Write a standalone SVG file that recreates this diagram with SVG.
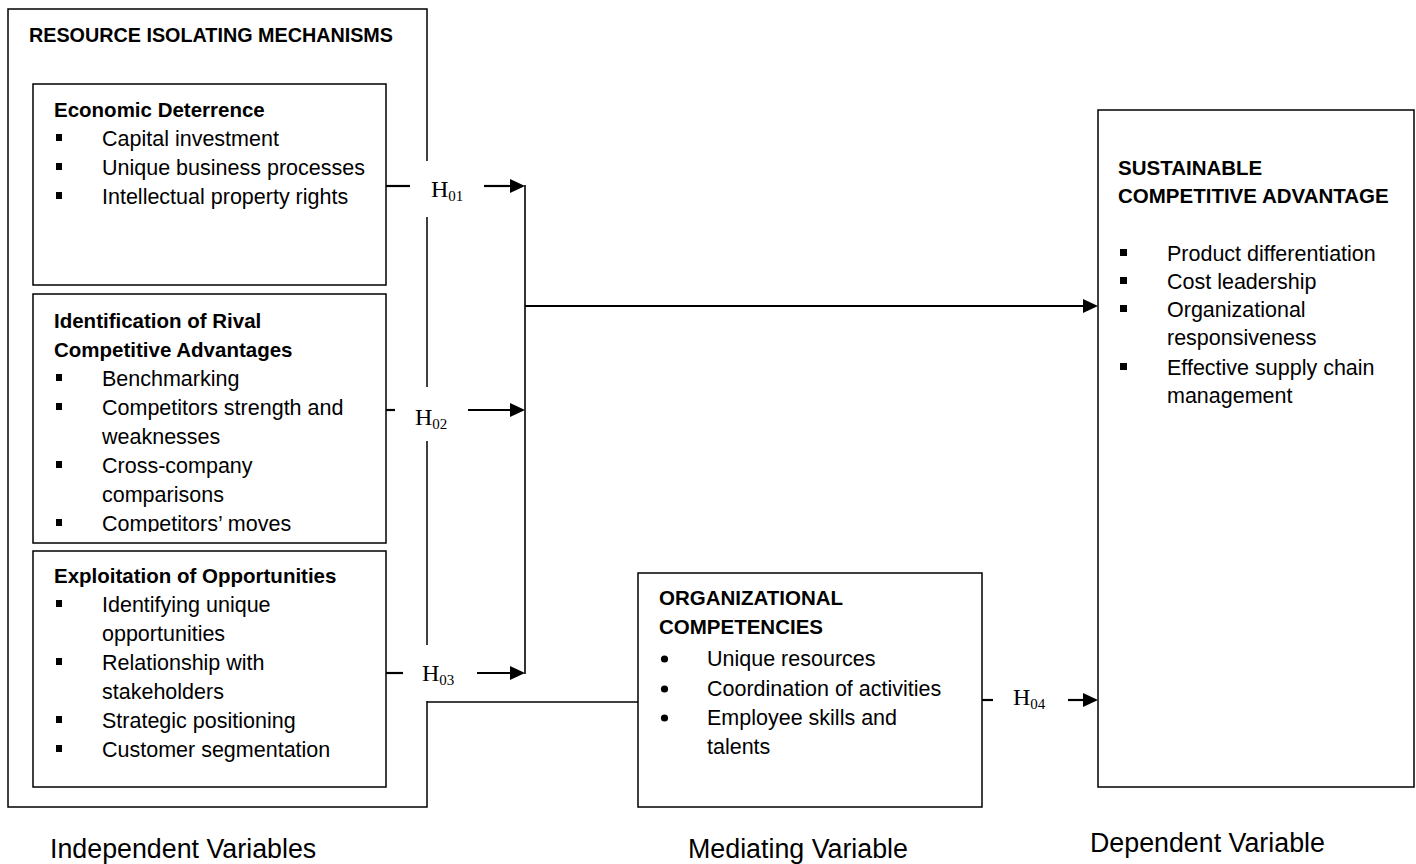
<svg xmlns="http://www.w3.org/2000/svg" width="1416" height="864" viewBox="0 0 1416 864">
<style>
.box{fill:none;stroke:#000;stroke-width:1.5}
.t{font-family:"Liberation Sans",Arial,sans-serif;font-size:21.5px;fill:#000}
.b{font-weight:bold;font-size:20.5px}
.lbl{font-size:26.8px}
.h{font-family:"Liberation Serif","Times New Roman",serif;font-size:24px;fill:#000}
.ln{stroke:#000;stroke-width:2.2;fill:none}
.jn{stroke:#000;stroke-width:1.6;fill:none}
.bg{fill:#fff;stroke:none}
.sq{fill:#000}
</style>
<defs>
<marker id="ah" viewBox="0 0 15 14" markerWidth="15" markerHeight="14" refX="0" refY="7" markerUnits="userSpaceOnUse" orient="auto">
<path d="M0,0 L15,7 L0,14 z" fill="#000"/>
</marker>
<clipPath id="c2"><rect x="33" y="294" width="353" height="238"/></clipPath>
</defs>
<rect width="1416" height="864" fill="#fff"/>

<g id="resource-isolating-mechanisms">
<rect class="box" x="8" y="9" width="419" height="798"/>
<text class="t b" x="29" y="42" textLength="364" lengthAdjust="spacingAndGlyphs">RESOURCE ISOLATING MECHANISMS</text>
</g>

<g id="economic-deterrence">
<rect class="box" x="33" y="84" width="353" height="201"/>
<text class="t b" x="54" y="117">Economic Deterrence</text>
<rect class="sq" x="56" y="134" width="6" height="7"/>
<rect class="sq" x="56" y="163" width="6" height="7"/>
<rect class="sq" x="56" y="192" width="6" height="7"/>
<text class="t" x="102" y="146">Capital investment</text>
<text class="t" x="102" y="175">Unique business processes</text>
<text class="t" x="102" y="204">Intellectual property rights</text>
</g>

<g id="identification-of-rival">
<rect class="box" x="33" y="294" width="353" height="249"/>
<g clip-path="url(#c2)">
<text class="t b" x="54" y="328">Identification of Rival</text>
<text class="t b" x="54" y="357">Competitive Advantages</text>
<rect class="sq" x="56" y="374" width="6" height="7"/>
<rect class="sq" x="56" y="403" width="6" height="7"/>
<rect class="sq" x="56" y="461" width="6" height="7"/>
<rect class="sq" x="56" y="519" width="6" height="7"/>
<text class="t" x="102" y="386">Benchmarking</text>
<text class="t" x="102" y="415">Competitors strength and</text>
<text class="t" x="102" y="444">weaknesses</text>
<text class="t" x="102" y="473">Cross-company</text>
<text class="t" x="102" y="502">comparisons</text>
<text class="t" x="102" y="531">Competitors’ moves</text>
</g>
</g>

<g id="exploitation-of-opportunities">
<rect class="box" x="33" y="551" width="353" height="236"/>
<text class="t b" x="54" y="583">Exploitation of Opportunities</text>
<rect class="sq" x="56" y="600" width="6" height="7"/>
<rect class="sq" x="56" y="658" width="6" height="7"/>
<rect class="sq" x="56" y="716" width="6" height="7"/>
<rect class="sq" x="56" y="745" width="6" height="7"/>
<text class="t" x="102" y="612">Identifying unique</text>
<text class="t" x="102" y="641">opportunities</text>
<text class="t" x="102" y="670">Relationship with</text>
<text class="t" x="102" y="699">stakeholders</text>
<text class="t" x="102" y="728">Strategic positioning</text>
<text class="t" x="102" y="757">Customer segmentation</text>
</g>

<g id="organizational-competencies">
<rect class="box" x="638" y="573" width="344" height="234"/>
<text class="t b" x="659" y="605">ORGANIZATIONAL</text>
<text class="t b" x="659" y="634">COMPETENCIES</text>
<circle class="sq" cx="664.5" cy="659" r="3.6"/>
<circle class="sq" cx="664.5" cy="689" r="3.6"/>
<circle class="sq" cx="664.5" cy="718" r="3.6"/>
<text class="t" x="707" y="666">Unique resources</text>
<text class="t" x="707" y="696">Coordination of activities</text>
<text class="t" x="707" y="725">Employee skills and</text>
<text class="t" x="707" y="754">talents</text>
</g>

<g id="sustainable-competitive-advantage">
<rect class="box" x="1098" y="110" width="316" height="677"/>
<text class="t b" x="1118" y="175">SUSTAINABLE</text>
<text class="t b" x="1118" y="203">COMPETITIVE ADVANTAGE</text>
<rect class="sq" x="1120" y="249" width="7" height="7"/>
<rect class="sq" x="1120" y="277" width="7" height="7"/>
<rect class="sq" x="1120" y="305" width="7" height="7"/>
<rect class="sq" x="1120" y="363" width="7" height="7"/>
<text class="t" x="1167" y="261">Product differentiation</text>
<text class="t" x="1167" y="289">Cost leadership</text>
<text class="t" x="1167" y="317">Organizational</text>
<text class="t" x="1167" y="345">responsiveness</text>
<text class="t" x="1167" y="375">Effective supply chain</text>
<text class="t" x="1167" y="403">management</text>
</g>

<g id="connectors">
<line class="ln" x1="386" y1="186" x2="410" y2="186"/>
<line class="ln" x1="484" y1="186" x2="510" y2="186" marker-end="url(#ah)"/>
<line class="ln" x1="386" y1="410" x2="395" y2="410"/>
<line class="ln" x1="468" y1="410" x2="510" y2="410" marker-end="url(#ah)"/>
<line class="ln" x1="386" y1="673" x2="403" y2="673"/>
<line class="ln" x1="477" y1="673" x2="510" y2="673" marker-end="url(#ah)"/>
<line class="jn" x1="525" y1="185" x2="525" y2="674"/>
<line class="ln" x1="525" y1="306" x2="1083" y2="306" marker-end="url(#ah)"/>
<line class="jn" x1="427" y1="702" x2="638" y2="702"/>
<line class="ln" x1="982" y1="700" x2="993" y2="700"/>
<line class="ln" x1="1068" y1="700" x2="1083" y2="700" marker-end="url(#ah)"/>
<g id="label-h01">
<rect class="bg" x="410" y="161" width="74" height="56"/>
<text class="h" x="431" y="197">H<tspan font-size="15" dy="4">01</tspan></text>
</g>
<g id="label-h02">
<rect class="bg" x="395" y="387" width="73" height="54"/>
<text class="h" x="415" y="425">H<tspan font-size="15" dy="4">02</tspan></text>
</g>
<g id="label-h03">
<rect class="bg" x="403" y="645" width="74" height="56"/>
<text class="h" x="422" y="681">H<tspan font-size="15" dy="4">03</tspan></text>
</g>
<g id="label-h04">
<rect class="bg" x="993" y="672" width="75" height="56"/>
<text class="h" x="1013" y="705">H<tspan font-size="15" dy="4">04</tspan></text>
</g>
</g>

<g id="captions">
<text class="t lbl" x="50" y="858">Independent Variables</text>
<text class="t lbl" x="688" y="858">Mediating Variable</text>
<text class="t lbl" x="1090" y="852">Dependent Variable</text>
</g>
</svg>
